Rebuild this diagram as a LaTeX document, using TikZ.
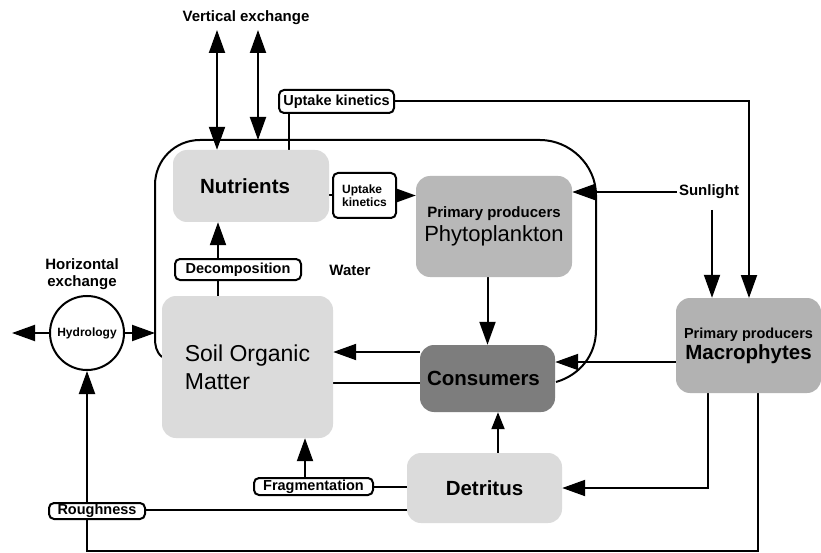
\documentclass[tikz,border=0pt]{standalone}
\usepackage{fontspec}
\setmainfont{Liberation Sans}
\usetikzlibrary{arrows.meta}
\definecolor{lightbox}{gray}{0.86}
\definecolor{midbox}{gray}{0.72}
\definecolor{macbox}{gray}{0.70}
\definecolor{darkbox}{gray}{0.49}
\pgfdeclarelayer{back}
\pgfdeclarelayer{bg}
\pgfsetlayers{back,bg,main}
\begin{document}
\begin{tikzpicture}[x=1pt,y=-1pt,line width=2pt,
  >={Triangle[length=23pt,width=16pt]},
  comp/.style={draw=none,rounded corners=14pt,inner sep=0pt},
  big/.style={font=\bfseries\fontsize{20.5}{24}\selectfont},
  lab/.style={draw,fill=white,rounded corners=5pt,line width=2pt,inner sep=0pt,
    font=\bfseries\fontsize{14.5}{16}\selectfont},
  txt/.style={font=\bfseries\fontsize{15}{17}\selectfont,inner sep=2pt},
  conn/.style={line width=2pt,black}]
\useasboundingbox (0,0) rectangle (821,553);
\begin{pgfonlayer}{back}
\fill[white] (0,0) rectangle (821,553);
\end{pgfonlayer}

% compartments
\node[comp,fill=lightbox,minimum width=156pt,minimum height=72pt,big] (nut) at (251,186) {\hspace*{-12pt}Nutrients};
\node[comp,fill=midbox,minimum width=156pt,minimum height=101pt,align=center] (phy) at (494,226.5)
  {{\bfseries\fontsize{15}{17}\selectfont Primary producers}\\[4pt]{\fontsize{22}{24}\selectfont Phytoplankton}};
\node[comp,fill=darkbox,minimum width=135pt,minimum height=67pt,big] (cons) at (487.5,378.5) {\hspace*{-8pt}Consumers};
\node[comp,fill=macbox,minimum width=145pt,minimum height=95pt,align=center] (mac) at (748.5,345.5)
  {{\bfseries\fontsize{14.5}{17}\selectfont Primary producers}\\[2pt]{\bfseries\fontsize{20.5}{24}\selectfont Macrophytes}};
\node[comp,fill=lightbox,minimum width=155pt,minimum height=70pt,big] (det) at (484.5,488) {Detritus};
\node[comp,fill=lightbox,minimum width=171pt,minimum height=142pt,align=left,
  font=\fontsize{23}{28}\selectfont] (som) at (247.5,367) {Soil Organic\\Matter};
\node[draw,circle,fill=white,minimum size=74pt,inner sep=0pt,line width=2pt,
  font=\bfseries\fontsize{12}{14}\selectfont] (hyd) at (87,333) {Hydrology};

% process labels
\node[lab,minimum width=115pt,minimum height=23pt] (uptop) at (336.5,101.5) {Uptake kinetics};
\node[lab,minimum width=63pt,minimum height=45pt,align=left,
  font=\bfseries\fontsize{12}{13}\selectfont] (upsmall) at (364.5,195.5) {Uptake\\kinetics};
\node[lab,minimum width=126pt,minimum height=21pt] (decomp) at (238,269.5) {Decomposition};
\node[lab,minimum width=119pt,minimum height=17pt] (frag) at (313.5,486.5) {Fragmentation};
\node[lab,minimum width=96pt,minimum height=16pt] (rough) at (97,511) {Roughness};

% free texts
\node[txt] (vex) at (246,18) {Vertical exchange};
\node[txt,align=center] (hex) at (82,274) {Horizontal\\exchange};
\node[txt] (water) at (350,270) {Water};
\node[txt] (sun) at (709,192) {Sunlight};

% coordinates
\coordinate (ve1) at (217,30);
\coordinate (ve2) at (258,30);
\coordinate (ve2b) at (258,140);
\coordinate (u1) at (289,113);
\coordinate (mtop2) at (749,298);
\coordinate (s1) at (712,210);
\coordinate (m1) at (676,362);
\coordinate (c1) at (420,352);
\coordinate (c2) at (333,383);
\coordinate (d1) at (498,453);
\coordinate (m2) at (708,393);
\coordinate (m3) at (758,393);
\coordinate (b1) at (758,551);
\coordinate (d2) at (407,510);
\coordinate (f1) at (305,478);
\coordinate (s2) at (218,296);
\coordinate (hl) at (12,333);
\coordinate (hr) at (155,333);
\coordinate (L0) at (162,357);
\coordinate (L1) at (155,338);
\coordinate (L2) at (155,185);
\coordinate (L3) at (200,140);
\coordinate (L4) at (540,140);
\coordinate (L5) at (596,195);
\coordinate (L6) at (596,330);
\coordinate (L7) at (556,382);

\begin{pgfonlayer}{bg}
\begin{scope}[conn]
% water boundary
\draw[conn] (L0) .. controls (156,352) and (155,345) .. (L1) -- (L2)
  .. controls (155,160) and (175,140) .. (L3) -- (L4)
  .. controls (570,140) and (596,165) .. (L5) -- (L6)
  .. controls (596,355) and (580,375) .. (L7);

\draw[conn,<->] (ve1) -- (ve1 |- nut.north);
\draw[conn,<->] (ve2) -- (ve2b);
\draw[conn] (u1) -- (u1 |- nut.north);
\draw[conn,->] (uptop.east) -| (mtop2);
\draw[conn] (nut.east |- upsmall.west) -- (upsmall.west);
\draw[conn,->] (upsmall.east) -- (upsmall.east -| phy.west);
\draw[conn,->] (sun.west) -- (sun.west -| phy.east);
\draw[conn,->] (s1) -- (s1 |- mac.north);
\draw[conn,->] (phy.south -| cons.north) -- (cons.north);
\draw[conn,->] (m1) -- (m1 -| cons.east);
\draw[conn,->] (c1) -- (c1 -| som.east);
\draw[conn] (c2) -- (c2 -| cons.west);
\draw[conn,-{Triangle[length=17pt,width=13pt]}] (d1) -- (d1 |- cons.south);
\draw[conn,->] (m2) |- (det.east);
\draw[conn,->] (m3) -- (b1) -| (hyd.south);
\draw[conn] (d2) -- (d2 -| rough.east);
\draw[conn] (det.west |- frag.east) -- (frag.east);
\draw[conn,->] (f1) -- (f1 |- som.south);
\draw[conn] (s2) -- (s2 |- decomp.south);
\draw[conn,->] (s2 |- decomp.north) -- (s2 |- nut.south);
\draw[conn,->] (hyd.west) -- (hl);
\draw[conn,->] (hyd.east) -- (hr);
\end{scope}
\end{pgfonlayer}
\end{tikzpicture}
\end{document}
